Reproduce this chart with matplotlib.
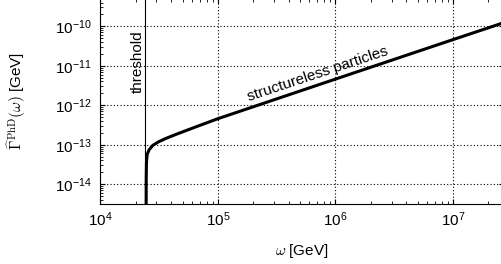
import numpy as np
import matplotlib
matplotlib.use('Agg')
import matplotlib.pyplot as plt

plt.rcParams['font.family'] = ['Liberation Sans', 'DejaVu Sans']
plt.rcParams['mathtext.fontset'] = 'custom'
plt.rcParams['mathtext.rm'] = 'Liberation Sans'
plt.rcParams['mathtext.it'] = 'Liberation Sans:italic'
plt.rcParams['mathtext.bf'] = 'Liberation Sans:bold'
plt.rcParams['font.size'] = 11

# values
omega = [2.45e4, 2.455e4, 2.465e4, 2.5e4, 2.6e4, 2.8e4, 3.1e4,
         3.6e4, 4.4e4, 6.5e4, 1e5, 1e6, 1e7, 3e7]
gamma = [2e-15, 1.5e-14, 3.5e-14, 5.7e-14, 7.5e-14, 9.7e-14, 1.17e-13,
         1.44e-13, 1.83e-13, 2.84e-13, 4.57e-13, 4.6e-12, 4.6e-11, 1.37e-10]
omega_th = 2.4e4

fig = plt.figure(figsize=(5.02, 2.64), dpi=100)
ax = fig.add_axes([0.2, 0.229, 0.803, 0.776])

ax.plot(omega, gamma, color='black', lw=2.2, solid_capstyle='butt')
ax.axvline(omega_th, color='black', lw=0.8)

ax.set_xscale('log')
ax.set_yscale('log')
ax.set_xlim(1e4, 10**7.43)
ax.set_ylim(10**-14.49, 10**-9.3)

ax.grid(True, which='major', color='black', linestyle=(0, (1, 2)), lw=0.8)
ax.tick_params(which='both', direction='in', top=True, right=True)
ax.tick_params(which='major', length=3.5, width=0.8)
ax.tick_params(which='minor', length=2, width=0.6)
ax.tick_params(axis='x', pad=5)
ax.tick_params(axis='y', pad=6)
for s in ax.spines.values():
    s.set_linewidth(0.8)

ax.text(2.07e4, 1.3e-11, 'threshold', rotation=90, ha='center', va='center')
ax.text(7.1e5, 6.2e-12, 'structureless particles', rotation=18.4,
        rotation_mode='anchor', ha='center', va='center')

ax.set_xlabel(r'$\omega$ [GeV]', math_fontfamily='cm')
ax.set_ylabel(r'$\widehat{\Gamma}^{\rm PhD}(\omega)$ [GeV]', math_fontfamily='cm')
ax.xaxis.set_label_coords(0.5, -0.19)
ax.yaxis.set_label_coords(-0.18, 0.5)

fig.savefig('out.png', dpi=100)
